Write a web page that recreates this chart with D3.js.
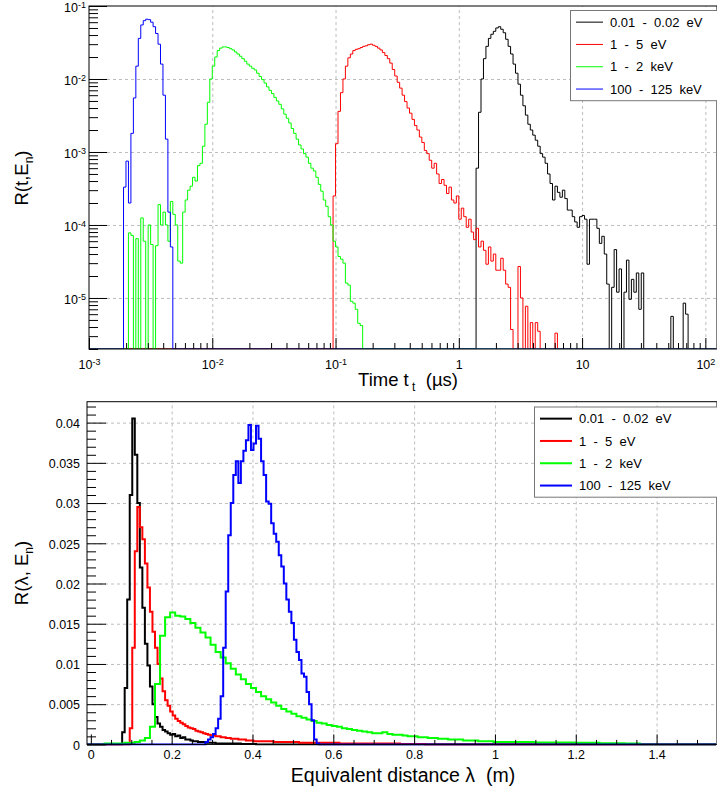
<!DOCTYPE html>
<html>
<head>
<meta charset="utf-8">
<script src="https://cdnjs.cloudflare.com/ajax/libs/d3/7.8.5/d3.min.js"></script>
<style>
body { margin: 0; background: #fff; }
svg { font-family: "Liberation Sans", Arial, Helvetica, sans-serif; }
text { white-space: pre; }
.grid line { stroke: #bdbdbd; stroke-dasharray: 3,3; }
</style>
</head>
<body>
<script>
// legend entries (same order for both panels)
const seriesLabels = ["0.01  -  0.02  eV", "1  -  5  eV", "1  -  2  keV", "100  -  125  keV"];
const seriesColors = ["#000000", "#ff0000", "#00ff00", "#0000ff"];

// ---- time spectra R(t,En): 50 log bins per decade, first bin low edge in us
const tBinsPerDecade = 50;
const tFirstEdge = [1.3804, 0.095499, 0.0020893, 0.0019055];
const tBlack = [6e-4, 3.5e-3, 1.0e-2, 1.9e-2, 2.8e-2, 3.6e-2, 4.1e-2, 4.5e-2, 5.0e-2, 5.2e-2,
  4.8e-2, 4.3e-2, 3.5e-2, 2.8e-2, 2.2e-2, 1.6e-2, 1.2e-2, 8.5e-3, 6.0e-3, 4.3e-3,
  3.2e-3, 2.4e-3, 2.0e-3, 1.7e-3, 1.45e-3, 1.2e-3, 9.5e-4, 8.5e-4, 7.0e-4, 5.0e-4,
  3.7e-4, 2.2e-4, 3.4e-4, 2.8e-4, 2.4e-4, 3.0e-4, 2.3e-4, 1.6e-4, 1.6e-4, 1.3e-4,
  1.1e-4, 9.3e-5, 1.3e-4, 1.35e-4, 1.2e-4, 2.9e-5, 1.2e-4, 1.2e-4, 1.2e-4, 9e-5,
  5.6e-5, 7e-5, 4e-5, 1.55e-5, 0, 1.4e-5, 4.6e-5, 1.2e-5, 2.5e-5, 0,
  1.2e-5, 3.3e-5, 9.6e-6, 1.8e-5, 1.2e-5, 2.2e-5, 7e-6, 2.2e-5, 0, 0,
  0, 0, 0, 0, 0, 0, 0, 0, 0, 5.6e-6,
  0, 0, 0, 0, 8.5e-6, 6e-6];
const tRed = [2.5e-4, 1.3e-3, 3.6e-3, 6.5e-3, 1.0e-2, 1.5e-2, 1.95e-2, 2.2e-2, 2.45e-2, 2.55e-2,
  2.6e-2, 2.7e-2, 2.8e-2, 2.85e-2, 2.95e-2, 3.0e-2, 2.9e-2, 2.8e-2, 2.65e-2, 2.5e-2,
  2.3e-2, 2.1e-2, 1.9e-2, 1.65e-2, 1.35e-2, 1.1e-2, 9.0e-3, 7.5e-3, 6.0e-3, 4.9e-3,
  4.0e-3, 3.4e-3, 2.8e-3, 2.3e-3, 2.0e-3, 1.6e-3, 1.35e-3, 1.05e-3, 9.5e-4, 7.7e-4,
  6.0e-4, 7.0e-4, 5.0e-4, 3.7e-4, 4.2e-4, 3.5e-4, 2.7e-4, 3.3e-4, 2.2e-4, 2.0e-4,
  2.5e-4, 1.2e-4, 1.7e-4, 1.3e-4, 9.3e-5, 1.2e-4, 8e-5, 6.3e-5, 9e-5, 5e-5,
  6e-5, 4.5e-5, 2.9e-5, 5e-5, 3.2e-5, 4e-5, 2.4e-5, 2.4e-5, 3.5e-5, 2.4e-5,
  1.55e-5, 1.4e-5, 3.7e-6, 0, 0, 2.7e-5, 1.0e-5, 0, 7.7e-6, 0,
  4.6e-6, 0, 4.6e-6, 3.5e-6, 0, 0, 0, 0, 0, 0, 3.3e-6];
const tGreen = [7.8e-5, 7.2e-5, 0, 6.5e-5, 0, 1.25e-4, 6e-5, 0, 1.0e-4, 5.4e-5,
  0, 5.2e-5, 1.9e-4, 1.0e-4, 1.5e-4, 1.0e-4, 6e-5, 2.1e-4, 1.4e-4, 1.0e-4,
  3.2e-5, 3.0e-5, 1.5e-4, 2.2e-4, 3.0e-4, 3.4e-4, 4.5e-4, 4.0e-4, 6.5e-4, 7.0e-4,
  1.2e-3, 2.4e-3, 4.8e-3, 1.0e-2, 1.5e-2, 2.0e-2, 2.45e-2, 2.65e-2, 2.75e-2, 2.75e-2,
  2.7e-2, 2.6e-2, 2.5e-2, 2.35e-2, 2.2e-2, 2.05e-2, 1.9e-2, 1.75e-2, 1.6e-2, 1.5e-2,
  1.4e-2, 1.33e-2, 1.2e-2, 1.08e-2, 9.8e-3, 8.8e-3, 7.8e-3, 7.0e-3, 6.3e-3, 5.6e-3,
  5.0e-3, 4.5e-3, 3.9e-3, 3.3e-3, 2.9e-3, 2.5e-3, 2.1e-3, 1.8e-3, 1.5e-3, 1.25e-3,
  1.1e-3, 9.5e-4, 8.5e-4, 7.0e-4, 6.0e-4, 5.5e-4, 4.5e-4, 3.6e-4, 2.9e-4, 2.2e-4,
  1.8e-4, 1.3e-4, 1.0e-4, 6e-5, 5e-5, 3.7e-5, 3.4e-5, 3.0e-5, 1.6e-5, 1.5e-5,
  9e-6, 8.5e-6, 7e-6, 4.5e-6, 4.2e-6];
const tBlue = [3.3e-4, 7.5e-4, 2.0e-4, 1.8e-3, 5.5e-3, 1.5e-2, 3.6e-2, 5.5e-2, 6.3e-2, 6.6e-2,
  6.5e-2, 6.0e-2, 5.2e-2, 4.2e-2, 3.0e-2, 1.6e-2, 6.0e-3, 1.5e-3, 1.5e-4, 5e-5];

// ---- distance spectra R(lambda,En): linear bins, first low edge and width in m
const lFirstEdge = [0.0775, 0.09625, 0.03375, 0.28375];
const lBinWidth = [0.00625, 0.00625, 0.0125, 0.00625];
const lBlack = [0.0015, 0.007, 0.018, 0.031, 0.0405, 0.036, 0.030, 0.022, 0.017, 0.0125,
  0.0098, 0.0072, 0.0050, 0.0034, 0.0026, 0.0022, 0.0018, 0.0016, 0.0014, 0.0012,
  0.0013, 0.0010, 0.0011, 0.0008, 0.0009, 0.0006, 0.0006, 0.0005, 0.0004, 0.0004,
  0.0003, 0.0003, 0.0003, 0.0002, 0.0002, 0.0002, 0.0002, 0.0001, 0.0001, 0.0001,
  0.0001, 0.0001, 0.0001, 0.0001, 0.0001, 0.0001, 0.0001, 0.00005, 0.00005, 0.00005,
  0.00005, 0.00005, 0.00005];
const lRed = [0.002, 0.012, 0.024, 0.0295, 0.027, 0.0255, 0.0225, 0.0195, 0.0165, 0.0140,
  0.0120, 0.0100, 0.0082, 0.0066, 0.0055, 0.0048, 0.0041, 0.0036, 0.0032, 0.0029,
  0.0027, 0.0025, 0.0023, 0.0021, 0.0020, 0.0019, 0.0017, 0.0016, 0.0015, 0.0014,
  0.0013, 0.0012, 0.0011, 0.0011, 0.0010, 0.0010, 0.0009, 0.0009, 0.0008, 0.0008,
  0.0007, 0.0007, 0.0007, 0.0006, 0.0006, 0.0006, 0.0005, 0.0005, 0.0005, 0.0004,
  0.0004, 0.0004, 0.0004, 0.0004, 0.0004, 0.0004, 0.0004, 0.0003, 0.0003, 0.0003,
  0.0003, 0.0003, 0.0003, 0.0003, 0.0003, 0.0003, 0.0003, 0.0002, 0.0002, 0.0002,
  0.0002, 0.0002, 0.0002, 0.0002, 0.0002, 0.0002, 0.0002, 0.0002, 0.0002, 0.0002,
  0.0002, 0.0002, 0.0002, 0.0001, 0.0001, 0.0001, 0.0001, 0.0001, 0.0001, 0.0001,
  0.0001, 0.0001, 0.0001, 0.0001, 0.0001, 0.0001, 0.0001, 0.0001, 0.0001, 0.0001,
  0.0001, 0.0001, 0.0001, 0.0001, 0.0001, 0.0001, 0.0001, 0.00005, 0.00005, 0.00005,
  0.00005, 0.00005, 0.00005, 0.00005, 0.00005, 0.00005, 0.00005];
const lGreen = [0.0001, 0.0001, 0.0001, 0.0001, 0.0002, 0.0002, 0.0003, 0.0005, 0.0008, 0.0022,
  0.0075, 0.0135, 0.0158, 0.0164, 0.0160, 0.0159, 0.0156, 0.0151, 0.0145, 0.0139,
  0.0133, 0.0124, 0.0115, 0.0108, 0.0101, 0.0094, 0.0087, 0.0081, 0.0075, 0.0070,
  0.0065, 0.0060, 0.0056, 0.0052, 0.0048, 0.0044, 0.0041, 0.0038, 0.0035, 0.0033,
  0.0031, 0.0029, 0.0027, 0.0026, 0.0024, 0.0023, 0.0022, 0.0020, 0.0019, 0.0018,
  0.0017, 0.0016, 0.0015, 0.0014, 0.0014, 0.0015, 0.0013, 0.0012, 0.0012, 0.0011,
  0.0010, 0.0010, 0.0009, 0.0009, 0.0008, 0.0008, 0.0007, 0.0007, 0.0006, 0.0006,
  0.0006, 0.0005, 0.0005, 0.0005, 0.0004, 0.0004, 0.0004, 0.0003, 0.0003, 0.0003,
  0.0003, 0.0003, 0.0003, 0.0003, 0.0003, 0.00025, 0.00025, 0.00025, 0.00025, 0.00025,
  0.00025, 0.00025, 0.00025, 0.0002, 0.0002, 0.0002, 0.0002, 0.0002, 0.00015, 0.00015,
  0.00015, 0.00015, 0.00015, 0.0001, 0.0001, 0.0001];
const lBlue = [0.0003, 0.0006, 0.0009, 0.0013, 0.0020, 0.0032, 0.0060, 0.0120, 0.0190, 0.0260,
  0.0300, 0.0335, 0.0352, 0.0325, 0.0352, 0.0365, 0.0378, 0.0397, 0.0366, 0.0374,
  0.0396, 0.0380, 0.0352, 0.0335, 0.0302, 0.0299, 0.0275, 0.0262, 0.0252, 0.0235,
  0.0221, 0.0200, 0.0180, 0.0165, 0.0151, 0.0130, 0.0115, 0.0105, 0.0088, 0.0084,
  0.0065, 0.0050, 0.0030, 0.0006, 0.0001];

// ticks
const tMajorTicks = [1e-3, 1e-2, 1e-1, 1, 10, 100];
const rtMajorTicks = [1e-5, 1e-4, 1e-3, 1e-2, 1e-1];
const lMajorTicks = [0, 0.2, 0.4, 0.6, 0.8, 1, 1.2, 1.4];
const rlMajorTicks = [0, 0.005, 0.01, 0.015, 0.02, 0.025, 0.03, 0.035, 0.04];

const W = 717, H = 794;
const svg = d3.select("body").append("svg").attr("width", W).attr("height", H);

const xT = d3.scaleLog().domain([1e-3, 122]).range([89, 716]);
const yT = d3.scaleLog().domain([2e-6, 0.1]).range([349, 6]);
const xL = d3.scaleLinear().domain([-0.0095, 1.547]).range([87, 716]);
const yL = d3.scaleLinear().domain([0, 0.0426]).range([744.4, 401.7]);

function logMinors(scale) {
    const [a, b] = scale.domain();
    const out = [];
    for (let e = Math.floor(Math.log10(a)); e <= Math.ceil(Math.log10(b)); e++) {
        for (let m = 2; m <= 9; m++) {
            const v = m * Math.pow(10, e);
            if (v >= a && v <= b) out.push(v);
        }
    }
    return out;
}

function linMinors(step, lo, hi, majors) {
    return d3.range(Math.round((hi - lo) / step) + 1)
        .map(i => +(lo + i * step).toFixed(4))
        .filter(v => !majors.some(m => Math.abs(m - v) < 1e-9));
}

function clean(g) {
    g.attr("font-family", null).attr("font-size", null);
    g.select(".domain").remove();
    g.selectAll(".tick line").attr("stroke", "#000");
    g.selectAll(".tick text").attr("fill", "#000");
}

function powLabels(g) {
    g.selectAll(".tick text").each(function(d) {
        const e = Math.round(Math.log10(d));
        const t = d3.select(this).text(null);
        if (e === 0) { t.text("1"); return; }
        if (e === 1) { t.text("10"); return; }
        t.append("tspan").text("10");
        t.append("tspan").attr("font-size", 9).attr("dy", "-0.45em").text(e);
    });
}

function stepLine(x, y) {
    return d3.line().x(d => x(d[0])).y(d => y(d[1])).curve(d3.curveStepAfter);
}

function logBins(first, values) {
    const floor = yT.domain()[0];
    const pts = [[xT.domain()[0], floor]];
    values.forEach((v, i) => pts.push([first * Math.pow(10, i / tBinsPerDecade), Math.max(v, floor)]));
    pts.push([first * Math.pow(10, values.length / tBinsPerDecade), floor]);
    pts.push([xT.domain()[1], floor]);
    return pts;
}

function linBins(first, width, values) {
    const pts = [[xL.domain()[0], 0]];
    values.forEach((v, i) => pts.push([first + i * width, v]));
    pts.push([first + values.length * width, 0]);
    pts.push([xL.domain()[1], 0]);
    return pts;
}

function legend(x0, y0, w, rowH, lineLen, lineW) {
    const g = svg.append("g");
    g.append("rect").attr("x", x0 + 0.5).attr("y", y0 + 0.5)
        .attr("width", w).attr("height", rowH * 4 + 1)
        .attr("fill", "#fff").attr("stroke", "#777");
    const rows = g.selectAll("g.row").data(seriesLabels).join("g")
        .attr("transform", (d, i) => `translate(${x0 + 6},${y0 + rowH * (i + 0.5) + 1})`);
    rows.append("line").attr("x1", 0).attr("x2", lineLen)
        .attr("stroke", (d, i) => seriesColors[i]).attr("stroke-width", lineW);
    rows.append("text").attr("x", lineLen + 7).attr("dy", "0.36em")
        .attr("font-size", 13).text(d => d);
}

// ================= top panel =================
const gTop = svg.append("g");
gTop.append("clipPath").attr("id", "clipT").append("rect")
    .attr("x", 89).attr("y", 6).attr("width", 628).attr("height", 343);

gTop.append("g").attr("class", "grid").attr("transform", "translate(0,349)")
    .call(d3.axisBottom(xT).tickValues(tMajorTicks.slice(1)).tickSize(-343).tickFormat(""))
    .call(g => g.select(".domain").remove());
gTop.append("g").attr("class", "grid").attr("transform", "translate(89,0)")
    .call(d3.axisLeft(yT).tickValues(rtMajorTicks.slice(0, -1)).tickSize(-628).tickFormat(""))
    .call(g => g.select(".domain").remove());

const topLine = stepLine(xT, yT);
gTop.append("g").attr("clip-path", "url(#clipT)")
    .selectAll("path")
    .data([tBlack, tRed, tGreen, tBlue])
    .join("path")
    .attr("d", (vals, i) => topLine(logBins(tFirstEdge[i], vals)))
    .attr("fill", "none").attr("stroke", (d, i) => seriesColors[i]).attr("stroke-width", 1);

gTop.append("g").attr("transform", "translate(0,349)")
    .call(d3.axisBottom(xT).tickValues(logMinors(xT)).tickSize(-6).tickFormat(""))
    .call(clean);
gTop.append("g").attr("transform", "translate(0,349)")
    .call(d3.axisBottom(xT).tickValues(tMajorTicks).tickSize(-11).tickPadding(11))
    .call(clean).call(g => g.selectAll("text").attr("font-size", 12.5)).call(powLabels);
gTop.append("g").attr("transform", "translate(89,0)")
    .call(d3.axisLeft(yT).tickValues(logMinors(yT)).tickSize(-9).tickFormat(""))
    .call(clean);
gTop.append("g").attr("transform", "translate(89,0)")
    .call(d3.axisLeft(yT).tickValues(rtMajorTicks).tickSize(-18).tickPadding(3))
    .call(clean).call(g => g.selectAll("text").attr("font-size", 12.5).attr("dy", "0.45em"))
    .call(powLabels);

gTop.append("rect").attr("x", 89).attr("y", 6).attr("width", 628).attr("height", 343)
    .attr("fill", "none").attr("stroke", "#000");

gTop.append("text").attr("x", 408).attr("y", 386).attr("text-anchor", "middle").attr("font-size", 18.5)
    .call(t => {
        t.append("tspan").text("Time t");
        t.append("tspan").attr("font-size", 12).attr("dy", 5).text(" t");
        t.append("tspan").attr("dy", -5).text("  (µs)");
    });
gTop.append("text").attr("transform", "translate(28,178) rotate(-90)")
    .attr("text-anchor", "middle").attr("font-size", 18.5)
    .call(t => {
        t.append("tspan").text("R(t,E");
        t.append("tspan").attr("font-size", 12).attr("dy", 5).text("n");
        t.append("tspan").attr("dy", -5).text(")");
    });

// ================= bottom panel =================
const gBot = svg.append("g");
gBot.append("clipPath").attr("id", "clipL").append("rect")
    .attr("x", 87).attr("y", 401.7).attr("width", 630).attr("height", 343.7);

gBot.append("g").attr("class", "grid").attr("transform", "translate(0,744.4)")
    .call(d3.axisBottom(xL).tickValues(lMajorTicks.slice(1)).tickSize(-342.7).tickFormat(""))
    .call(g => g.select(".domain").remove());
gBot.append("g").attr("class", "grid").attr("transform", "translate(87,0)")
    .call(d3.axisLeft(yL).tickValues(rlMajorTicks.slice(1)).tickSize(-630).tickFormat(""))
    .call(g => g.select(".domain").remove());

const botLine = stepLine(xL, yL);
gBot.append("g").attr("clip-path", "url(#clipL)")
    .selectAll("path")
    .data([lBlack, lRed, lGreen, lBlue])
    .join("path")
    .attr("d", (vals, i) => botLine(linBins(lFirstEdge[i], lBinWidth[i], vals)))
    .attr("fill", "none").attr("stroke", (d, i) => seriesColors[i]).attr("stroke-width", 2);

gBot.append("g").attr("transform", "translate(0,744.4)")
    .call(d3.axisBottom(xL).tickValues(linMinors(0.05, 0, 1.5, lMajorTicks)).tickSize(-4.5).tickFormat(""))
    .call(clean);
gBot.append("g").attr("transform", "translate(0,744.4)")
    .call(d3.axisBottom(xL).tickValues(lMajorTicks).tickSize(-10).tickPadding(6).tickFormat(d => String(d)))
    .call(clean).call(g => g.selectAll("text").attr("font-size", 12.5));
gBot.append("g").attr("transform", "translate(87,0)")
    .call(d3.axisLeft(yL).tickValues(linMinors(0.001, 0, 0.042, rlMajorTicks)).tickSize(-9).tickFormat(""))
    .call(clean);
gBot.append("g").attr("transform", "translate(87,0)")
    .call(d3.axisLeft(yL).tickValues(rlMajorTicks).tickSize(-19).tickPadding(7)
        .tickFormat(d => String(+d.toFixed(3))))
    .call(clean).call(g => g.selectAll("text").attr("font-size", 12.5).attr("dy", "0.38em"));

gBot.append("rect").attr("x", 87).attr("y", 401.7).attr("width", 630).attr("height", 342.7)
    .attr("fill", "none").attr("stroke", "#000");

gBot.append("text").attr("x", 403).attr("y", 782).attr("text-anchor", "middle").attr("font-size", 19.5)
    .text("Equivalent distance λ  (m)");
gBot.append("text").attr("transform", "translate(28,573) rotate(-90)")
    .attr("text-anchor", "middle").attr("font-size", 18.5)
    .call(t => {
        t.append("tspan").text("R(λ, E");
        t.append("tspan").attr("font-size", 12).attr("dy", 5).text("n");
        t.append("tspan").attr("dy", -5).text(")");
    });

legend(570, 10, 150, 22.3, 27, 1);
legend(534, 406.5, 186, 22.3, 32, 2);
</script>
</body>
</html>
